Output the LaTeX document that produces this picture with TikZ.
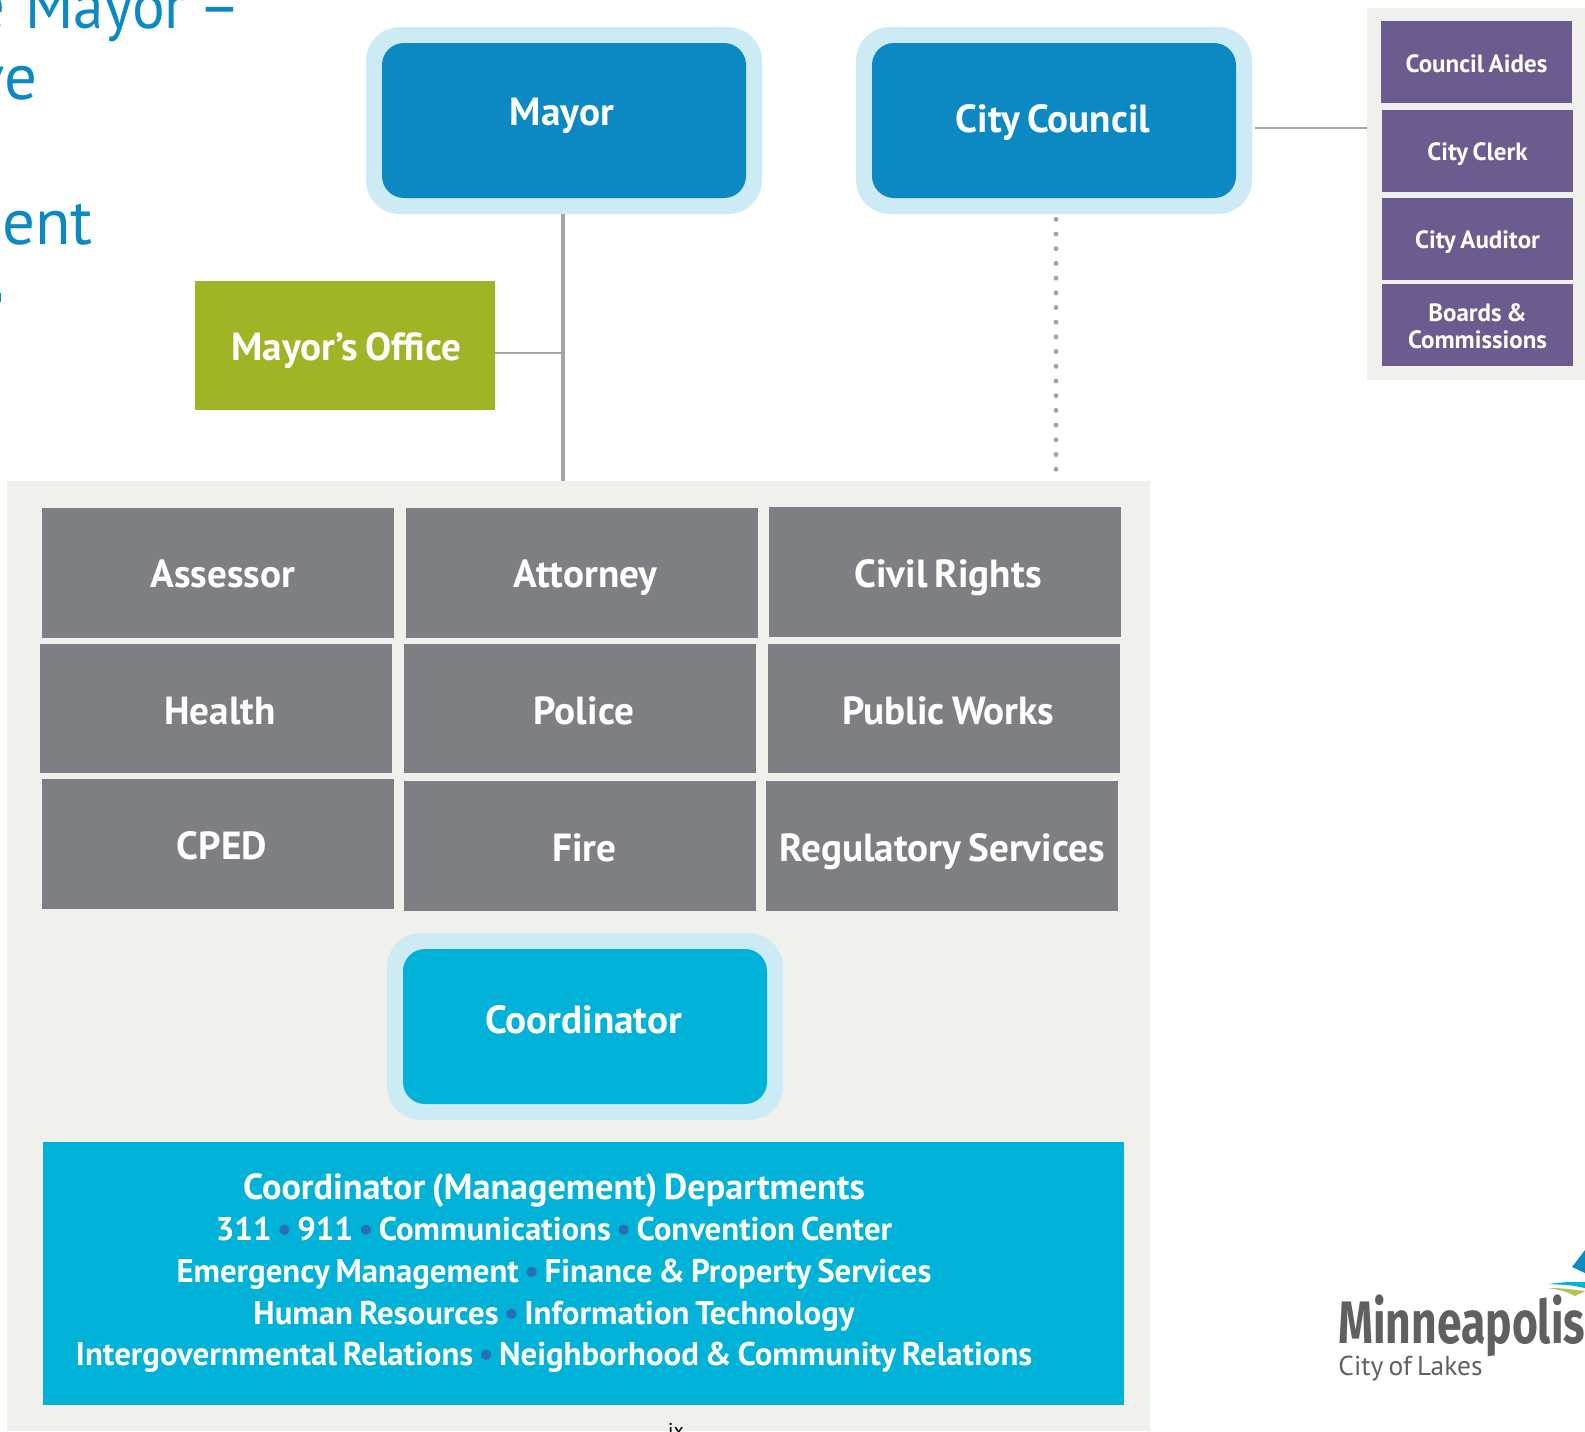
\documentclass[tikz,border=0pt]{standalone}
\usepackage{fontspec}
\setmainfont{PT Sans}[WordSpace=0.72]
\newfontfamily\logofont{Fira Sans}
\definecolor{bluemain}{HTML}{0C88C3}
\definecolor{halo}{HTML}{CDEBF4}
\definecolor{cyanmain}{HTML}{00B2D8}
\definecolor{deptgrey}{HTML}{7E7F83}
\definecolor{panelgrey}{HTML}{F0F1EC}
\definecolor{purplebox}{HTML}{6B5B8F}
\definecolor{officegreen}{HTML}{A0B425}
\definecolor{linegrey}{HTML}{A8A5A0}
\definecolor{bulletblue}{HTML}{2A6FB5}
\definecolor{logogrey}{HTML}{5F6062}
\definecolor{logogreen}{HTML}{B2C155}
\newcommand{\bx}[6]{\node[#6,minimum width={(#4-#2)*0.5pt},minimum height={(#5-#3)*0.5pt}] (#1) at ({(#2+#4)/2},{(#3+#5)/2}) {};}
\newcommand{\lb}[5]{\node[#1,#5] (#2) at (#3) {#4};}
\newcommand{\dotb}{{\color{bulletblue}\,•\,}}
\tikzset{
  sq/.style={draw=none,inner sep=0pt,outer sep=0pt,rectangle},
  dept/.style={sq,fill=deptgrey},
  purp/.style={sq,fill=purplebox},
  inner1/.style={sq,fill=bluemain,rounded corners=11pt},
  inner2/.style={sq,fill=cyanmain,rounded corners=11pt},
  halob/.style={sq,fill=halo,rounded corners=17pt},
  txt/.style={inner sep=0pt,outer sep=0pt,text=white,font=\bfseries},
  big/.style={txt,font=\bfseries\fontsize{19.6}{24}\selectfont},
  mid/.style={txt,font=\bfseries\fontsize{19.6}{24}\selectfont},
  small/.style={txt,font=\bfseries\fontsize{12.5}{13.4}\selectfont,align=center},
  dline/.style={txt,font=\bfseries\fontsize{16.4}{18}\selectfont,anchor=base},
  head/.style={inner sep=0pt,outer sep=0pt,text=bluemain,anchor=base east,font=\fontsize{32.5}{36}\selectfont},
  conn/.style={draw=linegrey,line width=0.75pt},
  connthick/.style={draw=linegrey,line width=2pt},
  dotted conn/.style={draw=linegrey,line width=2.5pt,line cap=round,dash pattern=on 0pt off 7.35pt},
}
\begin{document}
\begin{tikzpicture}[x=0.5pt,y=-0.5pt]
\useasboundingbox (0,0) rectangle (1585,1431);
% clipped heading fragments
\node[head] (h1) at (241,28) {e\hspace{4pt} \scalebox{0.94}[1]{Mayor} –};
\node[head] (h2) at (37,99) {ve};
\node[head] (h3) at (93,244) {nent};
\fill[bluemain] (0,293) rectangle (1.2,302);
% panels
\bx{panelL}{7}{481}{1150}{1431}{sq,fill=panelgrey}
\bx{panelR}{1367}{8}{1585}{380}{sq,fill=panelgrey}
% connector ends
\coordinate (mayorTop) at (562.5,481);
\coordinate (dotEnd) at (1056,472);
\coordinate (officeJoin) at (562.5,353);
% Mayor and council
\bx{mayorH}{366}{27}{762}{214}{halob}
\bx{mayor}{382}{43}{746}{198}{inner1}
\lb{big}{mayorT}{mayor}{Mayor}{xshift=-1pt,yshift=2.2pt}
\bx{councilH}{856}{27}{1252}{214}{halob}
\bx{council}{872}{43}{1236}{198}{inner1}
\lb{big}{councilT}{council}{City Council}{xshift=-0.5pt,yshift=-1pt}
\bx{office}{195}{281}{495}{410}{sq,fill=officegreen}
\lb{mid}{officeT}{office}{Mayor’s Office}{xshift=0.8pt,yshift=-2.6pt}
% connectors
\draw[connthick] (mayorTop |- mayorH.south) -- (mayorTop);
\draw[conn] (office.east |- officeJoin) -- (officeJoin);
\draw[dotted conn] (1056,219.3) -- (dotEnd);
\coordinate (cj) at (1255,128);
\draw[conn] (cj) -- (cj -| panelR.west);
% departments
\bx{assessor}{42}{508}{394}{638}{dept}
\lb{mid}{assessorT}{assessor}{Assessor}{xshift=2.5pt,yshift=-0.5pt}
\bx{attorney}{406}{508}{758}{638}{dept}
\lb{mid}{attorneyT}{attorney}{Attorney}{xshift=1.8pt,yshift=-2.5pt}
\bx{civil}{769}{507}{1121}{637}{dept}
\lb{mid}{civilT}{civil}{Civil Rights}{xshift=1.5pt,yshift=-3pt}
\bx{health}{40}{644}{392}{773}{dept}
\lb{mid}{healthT}{health}{Health}{xshift=2pt,yshift=-1.3pt}
\bx{police}{404}{644}{756}{773}{dept}
\lb{mid}{policeT}{police}{Police}{xshift=2pt,yshift=-1.3pt}
\bx{works}{768}{644}{1120}{773}{dept}
\lb{mid}{worksT}{works}{Public Works}{xshift=2.2pt,yshift=-1.3pt}
\bx{cped}{42}{779}{394}{909}{dept}
\lb{mid}{cpedT}{cped}{CPED}{xshift=2pt,yshift=-1pt}
\bx{fire}{404}{781}{756}{911}{dept}
\lb{mid}{fireT}{fire}{Fire}{xshift=2.2pt,yshift=-1pt}
\bx{reg}{766}{781}{1118}{911}{dept}
\lb{mid}{regT}{reg}{Regulatory Services}{xshift=0.2pt,yshift=-3pt}
% coordinator
\bx{coordH}{387}{933}{783}{1120}{halob}
\bx{coord}{403}{949}{767}{1104}{inner2}
\lb{big}{coordT}{coord}{Coordinator}{xshift=-0.7pt,yshift=3.2pt}
% coordinator departments
\bx{cdept}{43}{1142}{1124}{1405}{sq,fill=cyanmain}
\node[dline,font=\bfseries\fontsize{18.1}{20}\selectfont] (c1) at (554,1199) {Coordinator (Management) Departments};
\node[dline] (c2) at (554,1240) {311\dotb 911\dotb Communications\dotb Convention Center};
\node[dline] (c3) at (554,1282) {Emergency Management\dotb Finance \& Property Services};
\node[dline] (c4) at (554,1324) {Human Resources\dotb Information Technology};
\node[dline] (c5) at (554,1365) {Intergovernmental Relations\dotb Neighborhood \& Community Relations};
% page number
\node[anchor=base,inner sep=0pt,text=black,font=\fontsize{10}{12}\selectfont] (pageno) at (676,1437) {ix};
% right column
\bx{aides}{1381}{21}{1572}{103}{purp}
\lb{small}{aidesT}{aides}{Council Aides}{yshift=-1pt}
\bx{clerk}{1382}{110}{1573}{192}{purp}
\lb{small}{clerkT}{clerk}{City Clerk}{yshift=-1.5pt}
\bx{auditor}{1382}{198}{1573}{280}{purp}
\lb{small}{auditorT}{auditor}{City Auditor}{yshift=-1.5pt}
\bx{boards}{1382}{284}{1573}{366}{purp}
\lb{small}{boardsT}{boards}{Boards \&\\Commissions}{yshift=-0.5pt}
% logo
\fill[bluemain] (1572,1267) -- (1585,1250) -- (1585,1273) -- cycle;
\fill[cyanmain] (1548,1284) .. controls (1565,1282) .. (1585,1282) -- (1585,1288) .. controls (1570,1285) .. cycle;
\fill[logogreen] (1548,1288) .. controls (1560,1288) .. (1585,1291) -- (1575,1296) .. controls (1565,1291) .. cycle;
\node[anchor=base west,inner sep=0pt,text=logogrey] (logo1) at (1338,1343) {\scalebox{0.74}[1]{\logofont\bfseries\fontsize{30}{34}\selectfont Minneapolis}};
\node[anchor=base west,inner sep=0pt,text=logogrey,font=\fontsize{13.7}{16}\selectfont] (logo2) at (1338,1375) {City of Lakes};
\end{tikzpicture}
\end{document}
